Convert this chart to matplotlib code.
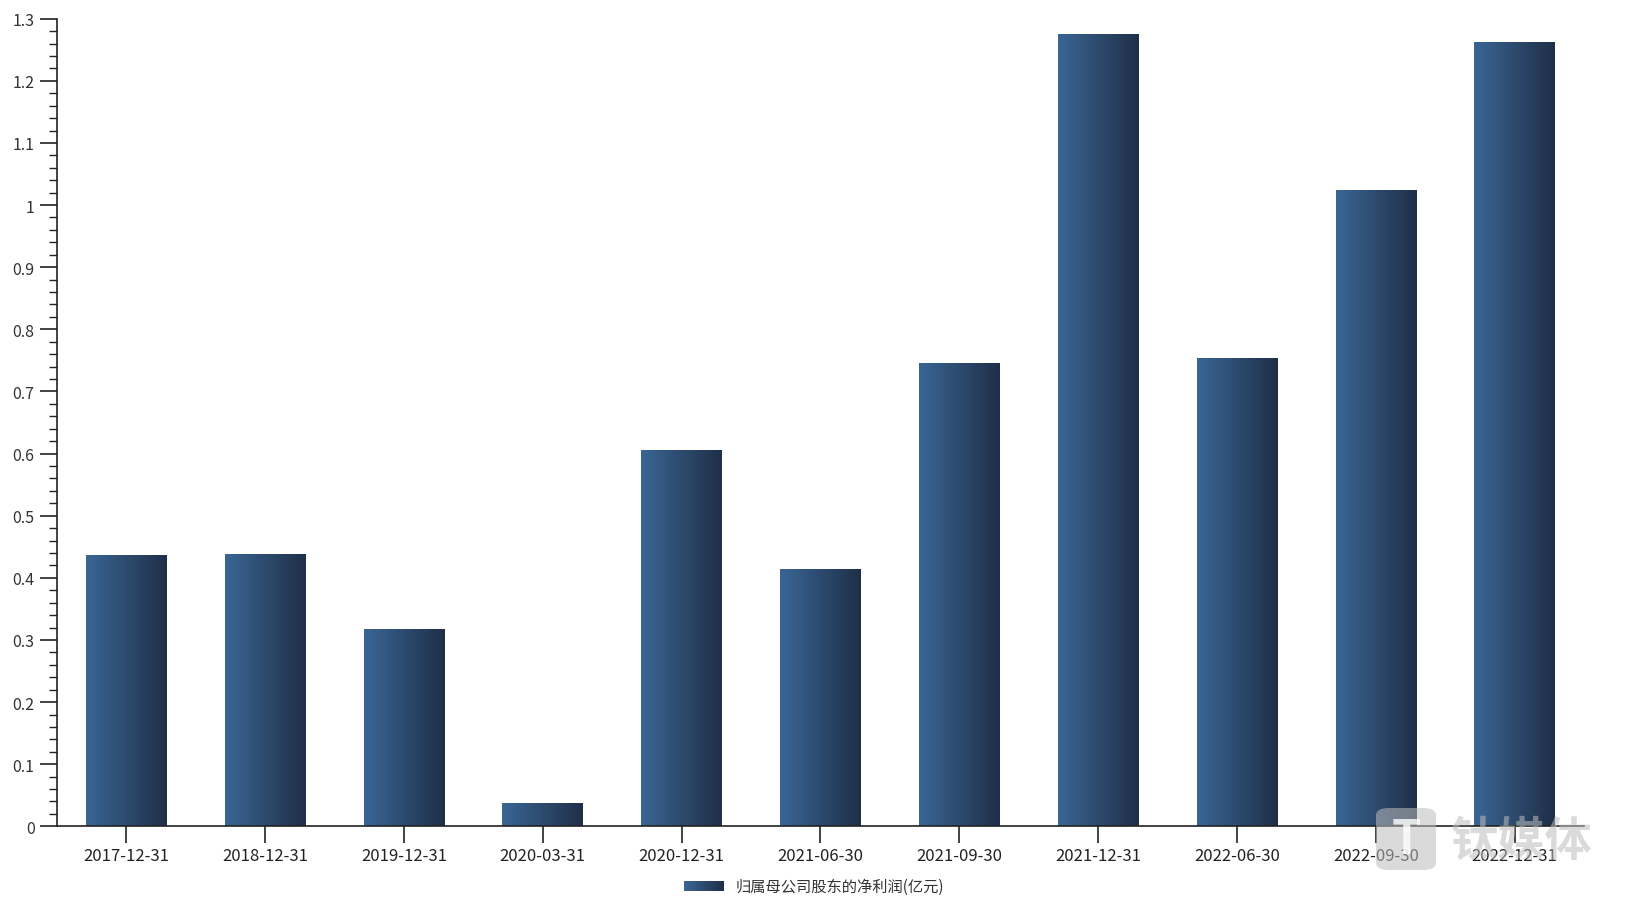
import numpy as np
import matplotlib.pyplot as plt
from matplotlib.colors import LinearSegmentedColormap
from matplotlib.ticker import MultipleLocator, FuncFormatter
from matplotlib.patches import FancyBboxPatch

plt.rcParams['font.family'] = ['Noto Sans CJK SC', 'DejaVu Sans']

# data
dates = ['2017-12-31', '2018-12-31', '2019-12-31', '2020-03-31', '2020-12-31',
         '2021-06-30', '2021-09-30', '2021-12-31', '2022-06-30', '2022-09-30',
         '2022-12-31']
profit = [0.436, 0.439, 0.317, 0.037, 0.606, 0.414, 0.746, 1.275, 0.754, 1.025, 1.262]
series_name = '归属母公司股东的净利润(亿元)'

c_left, c_right = '#3a6695', '#1f2f48'
cmap = LinearSegmentedColormap.from_list('bar_grad', [c_left, c_right])
grad = np.linspace(0, 1, 256).reshape(1, -1)

fig = plt.figure(figsize=(16.27, 9.03), dpi=100)
ax = fig.add_axes([0.0349, 0.0838, 0.9387, 0.8944])

x = np.arange(len(dates))
bars = ax.bar(x, profit, width=0.58, color='none', edgecolor='none')

# gradient fill, clipped to each bar
for b in bars:
    x0, w, h = b.get_x(), b.get_width(), b.get_height()
    im = ax.imshow(grad, cmap=cmap, aspect='auto', extent=[x0, x0 + w, 0, h],
                   interpolation='bicubic', zorder=2)
    im.set_clip_path(b)

ax.set_xlim(-0.5, len(dates) - 0.5)
ax.set_ylim(0, 1.3)

ax.set_xticks(x)
ax.set_xticklabels(dates)
ax.yaxis.set_major_locator(MultipleLocator(0.1))
ax.yaxis.set_minor_locator(MultipleLocator(0.02))
ax.yaxis.set_major_formatter(FuncFormatter(lambda v, p: '{:g}'.format(round(v, 2))))

for s in ['top', 'right']:
    ax.spines[s].set_visible(False)
for s in ['left', 'bottom']:
    ax.spines[s].set_color('#222222')
    ax.spines[s].set_linewidth(1.2)

ax.tick_params(axis='x', length=12, width=1.2, color='#222222', pad=3,
               labelsize=12, labelcolor='#222222')
ax.tick_params(axis='y', which='major', length=12, width=1.2, color='#222222',
               pad=4, labelsize=11.5, labelcolor='#333333')
ax.tick_params(axis='y', which='minor', length=6, width=1.0, color='#222222')

# legend at bottom
lg = fig.add_axes([684 / 1627, 1 - 892 / 903, 40 / 1627, 10 / 903])
lg.imshow(grad, cmap=cmap, aspect='auto')
lg.axis('off')
fig.text(736 / 1627, 1 - 887 / 903, series_name, fontsize=11, color='#333333',
         va='center', ha='left')

# watermark
wm = FancyBboxPatch((1376 / 1627, 1 - 871 / 903), 60 / 1627, 62 / 903,
                    boxstyle='round,pad=0,rounding_size=0.008',
                    transform=fig.transFigure, facecolor='#bdbdbd',
                    edgecolor='none', alpha=0.55, zorder=10)
fig.patches.append(wm)
fig.text(1406 / 1627, 1 - 840 / 903, 'T', fontsize=34, fontweight='bold',
         color='white', alpha=0.8, ha='center', va='center', zorder=11)
fig.text(1522 / 1627, 1 - 842 / 903, '钛媒体', fontsize=34, fontweight='bold',
         color='#bdbdbd', alpha=0.55, ha='center', va='center', zorder=11)

plt.savefig('out.png', dpi=100)
